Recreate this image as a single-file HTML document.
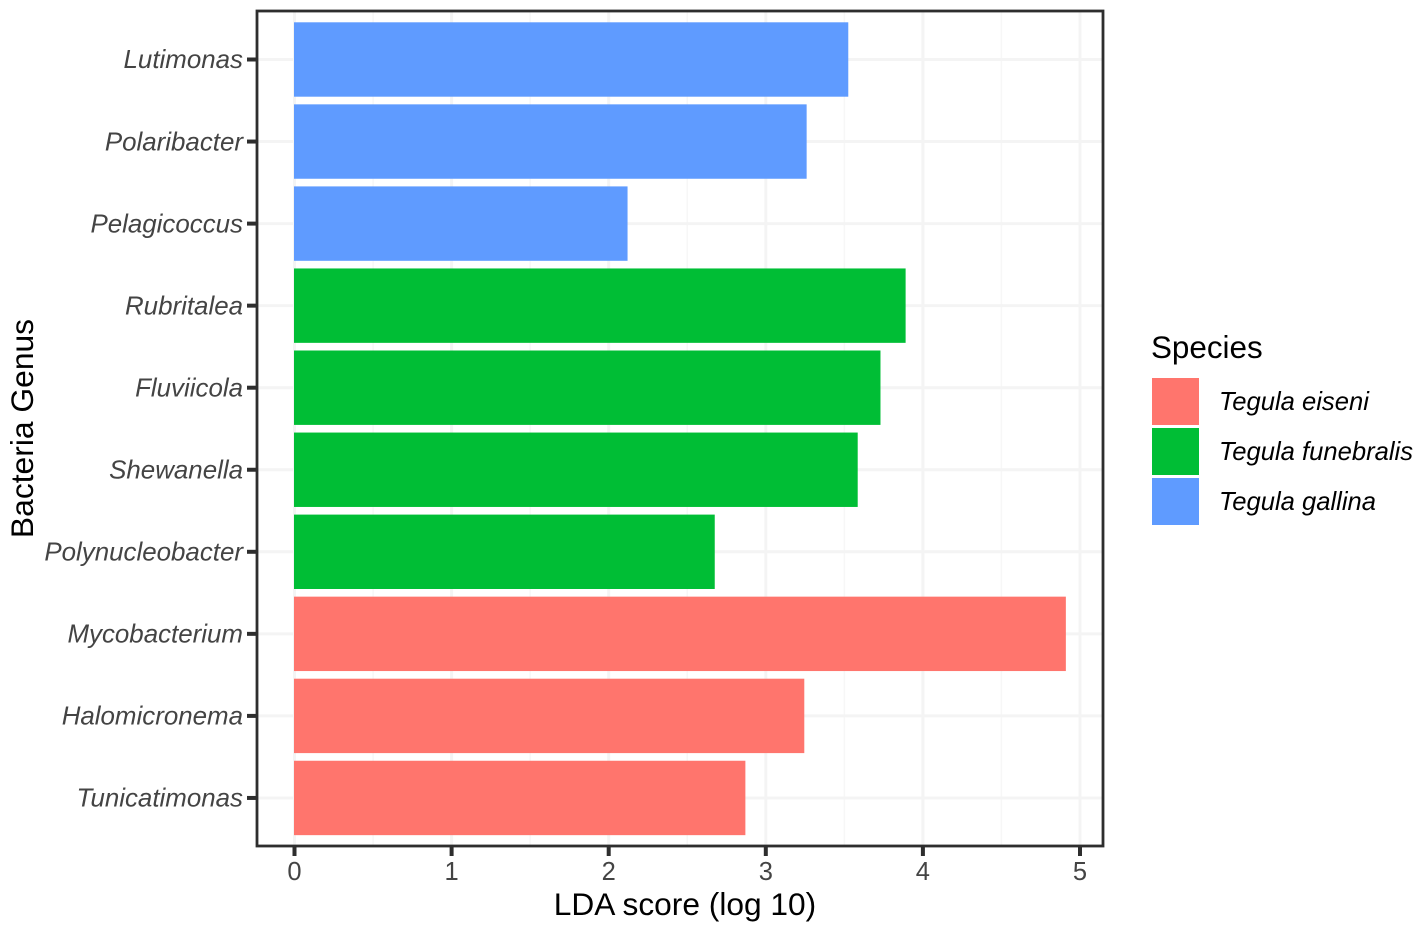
<!DOCTYPE html>
<html lang="en">
<head>
<meta charset="utf-8">
<title>LDA score by bacteria genus</title>
<style>
html,body{margin:0;padding:0;background:#fff;width:1417px;height:927px;overflow:hidden}
svg{display:block;font-family:"Liberation Sans",Arial,sans-serif}
</style>
</head>
<body>
<svg id="chart" xmlns="http://www.w3.org/2000/svg" width="1417" height="927" viewBox="0 0 1417 927">
  <rect x="0" y="0" width="1417" height="927" fill="#ffffff"/>
  <g id="grid"></g>
  <g id="bars"></g>
  <rect x="257" y="11" width="846" height="835" fill="none" stroke="#2e2e2e" stroke-width="2.8"/>
  <g id="yaxis"></g>
  <g id="xaxis"></g>
  <text x="685" y="915" font-size="31.7" text-anchor="middle" fill="#000000">LDA score (log 10)</text>
  <text transform="translate(33,428.5) rotate(-90)" font-size="31.8" text-anchor="middle" fill="#000000">Bacteria Genus</text>
  <g id="legend">
    <text x="1151" y="358" font-size="31.4" fill="#000000">Species</text>
  </g>
</svg>
<script>
var genera = ["Lutimonas","Polaribacter","Pelagicoccus","Rubritalea","Fluviicola","Shewanella","Polynucleobacter","Mycobacterium","Halomicronema","Tunicatimonas"];
var scores = [3.525,3.26,2.12,3.89,3.73,3.585,2.675,4.91,3.245,2.87];
var speciesOfBar = [2,2,2,1,1,1,1,0,0,0];
var speciesNames = ["Tegula eiseni","Tegula funebralis","Tegula gallina"];
var speciesColors = ["#FF756D","#00BE35","#5F9BFF"];
var xTicks = [0,1,2,3,4,5];
var xMinorTicks = [0.5,1.5,2.5,3.5,4.5];

var NS = "http://www.w3.org/2000/svg";
function make(tag, attrs, parent) {
  var el = document.createElementNS(NS, tag);
  for (var k in attrs) { el.setAttribute(k, attrs[k]); }
  parent.appendChild(el);
  return el;
}
function xScale(v) { return 294.5 + v * 157.1; }
function yScale(i) { return 59.5 + i * 82.05; }
var BAR_H = 74.4;
var PANEL = { left: 257, right: 1103, top: 11, bottom: 846 };

var gridG = document.getElementById("grid");
var barsG = document.getElementById("bars");
var yG = document.getElementById("yaxis");
var xG = document.getElementById("xaxis");
var legendG = document.getElementById("legend");

xMinorTicks.forEach(function (t) {
  var l = make("line", { x1: xScale(t), x2: xScale(t), y1: PANEL.top, y2: PANEL.bottom, stroke: "#f7f7f7", "stroke-width": 1.5 }, gridG);
  
  
});
xTicks.forEach(function (t) {
  var l = make("line", { x1: xScale(t), x2: xScale(t), y1: PANEL.top, y2: PANEL.bottom, stroke: "#f4f4f4", "stroke-width": 3 }, gridG);
  
  
});
genera.forEach(function (g, i) {
  var l = make("line", { x1: PANEL.left, x2: PANEL.right, y1: yScale(i), y2: yScale(i), stroke: "#f4f4f4", "stroke-width": 3 }, gridG);
  
  
});

genera.forEach(function (g, i) {
  var r = make("rect", {
    x: xScale(0) - 0.5, y: yScale(i) - BAR_H / 2,
    width: xScale(scores[i]) - xScale(0) + 0.5, height: BAR_H,
    fill: speciesColors[speciesOfBar[i]]
  }, barsG);
  
  

  var tick = make("line", { x1: 247, x2: 257, y1: yScale(i), y2: yScale(i), stroke: "#2e2e2e", "stroke-width": 4 }, yG);
  
  

  var label = make("text", { x: 243, y: yScale(i) + 8.7, "font-size": 25.9, "font-style": "italic", "text-anchor": "end", fill: "#444444" }, yG);
  label.textContent = g;
  
  
});

xTicks.forEach(function (t) {
  var tick = make("line", { x1: xScale(t), x2: xScale(t), y1: 846, y2: 856, stroke: "#2e2e2e", "stroke-width": 4 }, xG);
  
  

  var label = make("text", { x: xScale(t), y: 880, "font-size": 25.5, "text-anchor": "middle", fill: "#444444" }, xG);
  label.textContent = String(t);
  
  
});

speciesNames.forEach(function (name, i) {
  var top = 378 + i * 50;
  var swatch = make("rect", { x: 1152, y: top, width: 47, height: 47, fill: speciesColors[i] }, legendG);
  
  

  var label = make("text", { x: 1219, y: top + 32, "font-size": 25.6, "font-style": "italic", fill: "#000000" }, legendG);
  label.textContent = name;
  
  
});
</script>
</body>
</html>
